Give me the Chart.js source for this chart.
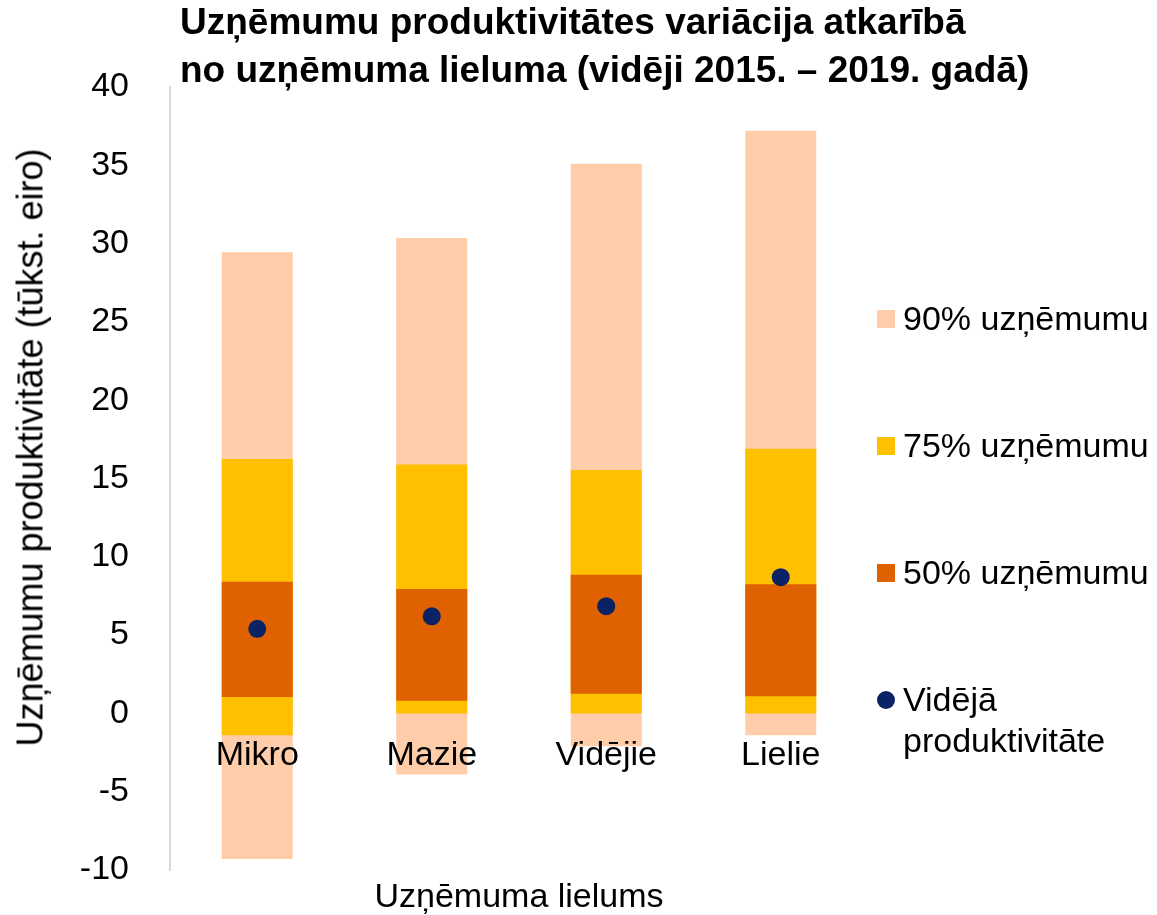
<!DOCTYPE html>
<html lang="lv">
<head>
    <meta charset="UTF-8">
    <title>Uzņēmumu produktivitātes variācija</title>
    <script src="https://cdn.jsdelivr.net/npm/chart.js@4.4.2/dist/chart.umd.min.js"></script>
    <style>
        body {
            margin: 0;
            background: #fff;
            font-family: "Liberation Sans", Arial, sans-serif;
            color: #000;
            overflow: hidden;
        }
        .wrap {
            position: relative;
            width: 1157px;
            height: 915px;
            overflow: hidden;
        }
        /* the canvas runs a little below the page: the category axis sits at
           y = 0 but Chart.js still reserves its label height at the bottom */
        .canvas-box {
            position: absolute;
            left: 0;
            top: 0;
            width: 1157px;
            height: 933px;
        }
        .title {
            position: absolute;
            left: 180px;
            top: -2px;
            font-size: 37px;
            font-weight: bold;
            line-height: 48px;
            white-space: nowrap;
        }
        .y-title {
            position: absolute;
            left: -320px;
            top: 427px;
            width: 700px;
            text-align: center;
            font-size: 36px;
            line-height: 41px;
            transform: rotate(-90deg);
            white-space: nowrap;
        }
        .x-title {
            position: absolute;
            left: 170px;
            top: 875px;
            width: 698px;
            text-align: center;
            font-size: 34px;
            line-height: 41px;
        }
        .legend {
            position: absolute;
            left: 877px;
            top: 298px;
            margin: 0;
            padding: 0;
            list-style: none;
            font-size: 34px;
            line-height: 41px;
        }
        .legend li {
            position: relative;
            padding-left: 26px;
            margin-bottom: 86px;
            white-space: nowrap;
        }
        .legend .swatch {
            position: absolute;
            left: 0;
            top: 12px;
            width: 18px;
            height: 18px;
        }
        .legend .swatch.dot {
            border-radius: 50%;
        }
    </style>
</head>
<body>
<div class="wrap">
    <div class="canvas-box"><canvas id="rangeChart"></canvas></div>
    <div class="title">Uzņēmumu produktivitātes variācija atkarībā<br>no uzņēmuma lieluma (vidēji 2015. – 2019. gadā)</div>
    <div class="y-title">Uzņēmumu produktivitāte (tūkst. eiro)</div>
    <div class="x-title">Uzņēmuma lielums</div>
    <ul class="legend" id="legend"></ul>
</div>

<script>
    // --- Data (tūkst. eiro) ---
    const categories = ['Mikro', 'Mazie', 'Vidējie', 'Lielie'];

    const p90Low  = [-9.3, -3.9, -2.1, -1.4];
    const p90High = [29.45, 30.35, 35.1, 37.2];

    const p75Low  = [-1.4, 0, 0, 0];
    const p75High = [16.25, 15.9, 15.55, 16.9];

    const p50Low  = [1.05, 0.8, 1.25, 1.1];
    const p50High = [8.4, 7.95, 8.85, 8.25];

    const meanValues = [5.4, 6.2, 6.85, 8.7];

    const yTicks = [-10, -5, 0, 5, 10, 15, 20, 25, 30, 35, 40];

    // --- Colours ---
    const colors = {
        p90: '#FFCDAA',
        p75: '#FFC000',
        p50: '#DF6100',
        mean: '#0B2265'
    };

    const FONT = '"Liberation Sans", Arial, sans-serif';

    function ranges(lo, hi) {
        return lo.map((v, i) => [v, hi[i]]);
    }

    const datasets = [
        { label: '90% uzņēmumu', data: ranges(p90Low, p90High), backgroundColor: colors.p90, order: 3 },
        { label: '75% uzņēmumu', data: ranges(p75Low, p75High), backgroundColor: colors.p75, order: 2 },
        { label: '50% uzņēmumu', data: ranges(p50Low, p50High), backgroundColor: colors.p50, order: 1 },
        {
            type: 'line',
            label: 'Vidējā produktivitāte',
            data: meanValues,
            showLine: false,
            pointRadius: 9,
            pointBorderWidth: 0,
            backgroundColor: colors.mean,
            borderColor: colors.mean,
            order: 0
        }
    ];

    new Chart(document.getElementById('rangeChart'), {
        type: 'bar',
        data: { labels: categories, datasets: datasets },
        options: {
            responsive: true,
            maintainAspectRatio: false,
            animation: false,
            categoryPercentage: 0.407,
            barPercentage: 1,
            layout: {
                padding: { left: 0, top: 87, right: 289, bottom: 63 }
            },
            scales: {
                x: {
                    stacked: true,          // all ranges share one slot per category
                    position: { y: 0 },     // labels sit at the zero line, like Excel
                    grid: { display: false, drawTicks: false },
                    border: { display: false },
                    ticks: {
                        z: 1,               // draw labels on top of the bars
                        padding: 22,
                        color: '#000',
                        font: { family: FONT, size: 34 }
                    }
                },
                y: {
                    min: -10,
                    max: 40,
                    afterBuildTicks: (scale) => { scale.ticks = yTicks.map(v => ({ value: v })); },
                    grid: { display: false, drawTicks: false },
                    border: { display: true, color: '#D9D9D9', width: 2 },
                    ticks: {
                        padding: 41,
                        color: '#000',
                        font: { family: FONT, size: 34 }
                    },
                    afterFit: (scale) => { scale.width = 170; }
                }
            },
            plugins: {
                legend: { display: false },
                tooltip: { enabled: false }
            }
        }
    });

    // --- Legend (HTML, built from the datasets) ---
    const legendEl = document.getElementById('legend');
    datasets.forEach(ds => {
        const li = document.createElement('li');
        const sw = document.createElement('span');
        sw.className = 'swatch' + (ds.type === 'line' ? ' dot' : '');
        sw.style.background = ds.backgroundColor;
        li.appendChild(sw);
        const words = ds.label.split(' ');
        if (ds.type === 'line') {
            li.appendChild(document.createTextNode(words[0]));
            li.appendChild(document.createElement('br'));
            li.appendChild(document.createTextNode(words.slice(1).join(' ')));
        } else {
            li.appendChild(document.createTextNode(ds.label));
        }
        legendEl.appendChild(li);
    });
</script>
</body>
</html>
